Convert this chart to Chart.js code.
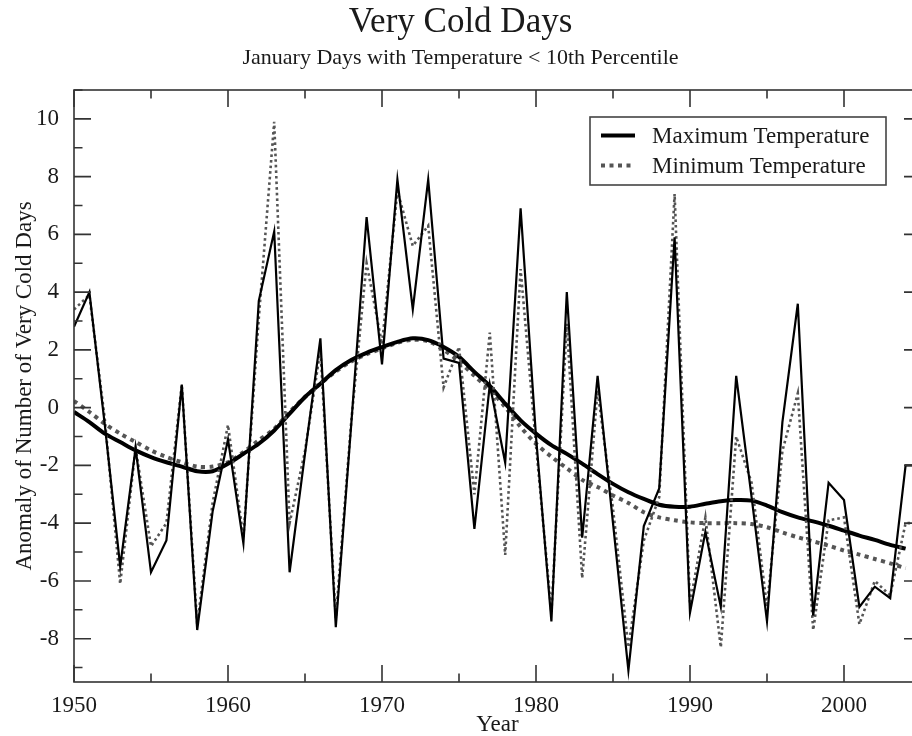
<!DOCTYPE html>
<html>
<head>
<meta charset="utf-8">
<title>Very Cold Days</title>
<script src="https://cdn.jsdelivr.net/npm/chart.js@4/dist/chart.umd.min.js"></script>
<style>
  html, body { margin: 0; padding: 0; background: #fff; overflow: hidden; }
  #wrap { width: 996px; height: 736px; }
</style>
</head>
<body>
<div id="wrap"><canvas id="my-chart" width="996" height="736"></canvas></div>
<script>
'use strict';

// ***************** DATA ***************** //

let years = [
  1950, 1951, 1952, 1953, 1954, 1955, 1956, 1957, 1958, 1959,
  1960, 1961, 1962, 1963, 1964, 1965, 1966, 1967, 1968, 1969,
  1970, 1971, 1972, 1973, 1974, 1975, 1976, 1977, 1978, 1979,
  1980, 1981, 1982, 1983, 1984, 1985, 1986, 1987, 1988, 1989,
  1990, 1991, 1992, 1993, 1994, 1995, 1996, 1997, 1998, 1999,
  2000, 2001, 2002, 2003, 2004, 2005
];

let maxTemp = [
  2.8, 4.0, -0.6, -5.5, -1.4, -5.7, -4.6, 0.8, -7.7, -3.6,
  -1.1, -4.7, 3.7, 6.1, -5.7, -1.6, 2.4, -7.6, -0.6, 6.6,
  1.5, 7.9, 3.4, 7.9, 1.7, 1.55, -4.2, 0.8, -1.9, 6.9,
  -1.0, -7.4, 4.0, -4.5, 1.1, -4.0, -9.1, -4.1, -2.8, 5.9,
  -7.1, -4.3, -6.9, 1.1, -3.1, -7.4, -0.5, 3.6, -7.2, -2.6,
  -3.2, -6.9, -6.2, -6.6, -2.0, -2.0
];

let minTemp = [
  3.4, 3.9, -0.4, -6.1, -1.4, -4.8, -4.0, 0.8, -7.5, -3.3,
  -0.6, -4.5, 3.1, 9.9, -4.0, -1.5, 2.0, -7.3, -0.5, 5.0,
  2.2, 7.5, 5.6, 6.3, 0.7, 2.1, -3.0, 2.6, -5.1, 4.8,
  -1.3, -7.1, 2.9, -5.9, 0.6, -3.5, -8.3, -4.6, -3.1, 7.4,
  -6.8, -3.8, -8.3, -1.0, -2.6, -6.9, -1.5, 0.5, -7.7, -3.9,
  -3.8, -7.5, -6.0, -6.5, -4.0, -4.0
];

// smoothed curves, 1950-2004
let maxSmooth = [
  -0.15, -0.5, -0.9, -1.19, -1.48, -1.71, -1.89, -2.04, -2.2, -2.2,
  -1.94, -1.6, -1.25, -0.79, -0.21, 0.37, 0.83, 1.3, 1.65, 1.9,
  2.1, 2.28, 2.4, 2.34, 2.1, 1.76, 1.24, 0.75, 0.14, -0.44,
  -0.9, -1.3, -1.6, -1.94, -2.3, -2.64, -2.93, -3.16, -3.36, -3.43,
  -3.43, -3.33, -3.24, -3.2, -3.22, -3.39, -3.62, -3.8, -3.94, -4.09,
  -4.26, -4.43, -4.58, -4.75, -4.88
];

let minSmooth = [
  0.23, -0.15, -0.56, -0.9, -1.19, -1.48, -1.71, -1.89, -2.04, -2.04,
  -1.89, -1.54, -1.13, -0.73, -0.15, 0.37, 0.83, 1.25, 1.6, 1.85,
  2.05, 2.25, 2.35, 2.3, 2.0, 1.6, 1.1, 0.62, 0.02, -0.67,
  -1.25, -1.7, -2.1, -2.5, -2.75, -3.04, -3.3, -3.62, -3.8, -3.9,
  -3.97, -4.0, -4.0, -4.0, -4.03, -4.14, -4.32, -4.49, -4.63, -4.78,
  -4.95, -5.09, -5.24, -5.39, -5.56
];

let xTickLabels = [1950, 1960, 1970, 1980, 1990, 2000];
let yTickLabels = [-8, -6, -4, -2, 0, 2, 4, 6, 8, 10];

let legendNames = ['Maximum Temperature', 'Minimum Temperature'];

// ***************** HELPERS ***************** //

const SERIF = '"Liberation Serif", "Times New Roman", Times, serif';
const INK = '#1a1a1a';
const DOT_GREY = '#555555';

function toPoints(values) {
  let pts = [];
  for (let i = 0; i < values.length; i++) {
    pts.push({ x: years[i], y: values[i] });
  }
  return pts;
}

// frame on all four sides with inward ticks, like the original plot
let framePlugin = {
  id: 'frame',
  afterDatasetsDraw(chart) {
    let c = chart.ctx;
    let area = chart.chartArea;
    let xs = chart.scales.x;
    let ys = chart.scales.y;
    c.save();
    c.strokeStyle = '#333';
    c.lineWidth = 1.6;
    c.strokeRect(area.left, area.top, area.right - area.left, area.bottom - area.top);

    c.beginPath();
    for (let yr = 1950; yr <= 2005; yr += 5) {
      let len = xTickLabels.includes(yr) ? 17 : 8.5;
      let px = xs.getPixelForValue(yr);
      c.moveTo(px, area.bottom);
      c.lineTo(px, area.bottom - len);
      c.moveTo(px, area.top);
      c.lineTo(px, area.top + len);
    }
    for (let v = -9; v <= 11; v++) {
      let len = yTickLabels.includes(v) ? 17 : 8.5;
      let py = ys.getPixelForValue(v);
      c.moveTo(area.left, py);
      c.lineTo(area.left + len, py);
      c.moveTo(area.right, py);
      c.lineTo(area.right - len, py);
    }
    c.stroke();
    c.restore();
  }
};

// boxed legend sitting inside the plot, top right
let boxLegendPlugin = {
  id: 'boxLegend',
  afterDraw(chart) {
    let c = chart.ctx;
    let area = chart.chartArea;
    let left = area.right - 331;
    let top = area.top + 27;
    let w = 296;
    let h = 68;
    let sets = [chart.data.datasets[2], chart.data.datasets[3]];

    c.save();
    c.fillStyle = '#fff';
    c.fillRect(left, top, w, h);
    c.strokeStyle = '#444';
    c.lineWidth = 1.6;
    c.strokeRect(left, top, w, h);

    for (let i = 0; i < sets.length; i++) {
      let y = top + 18.5 + i * 30;
      c.beginPath();
      c.strokeStyle = sets[i].borderColor;
      c.lineWidth = sets[i].borderWidth;
      c.setLineDash(sets[i].borderDash || []);
      c.moveTo(left + 11, y);
      c.lineTo(left + 45, y);
      c.stroke();
      c.setLineDash([]);

      c.fillStyle = INK;
      c.font = '23px ' + SERIF;
      c.textBaseline = 'middle';
      c.textAlign = 'left';
      c.fillText(legendNames[i], left + 62, y + 1);
    }
    c.restore();
  }
};

// ***************** CHART ***************** //

let ctx = document.getElementById('my-chart').getContext('2d');

let myChartObj = {
  type: 'line',
  data: {
    datasets: [
      {
        label: 'Maximum Temperature (annual)',
        data: toPoints(maxTemp),
        borderColor: '#000',
        borderWidth: 2.2,
        pointRadius: 0,
        tension: 0,
        fill: false
      },
      {
        label: 'Minimum Temperature (annual)',
        data: toPoints(minTemp),
        borderColor: DOT_GREY,
        borderWidth: 2.6,
        borderDash: [2.6, 3],
        pointRadius: 0,
        tension: 0,
        fill: false
      },
      {
        label: legendNames[0],
        data: toPoints(maxSmooth),
        borderColor: '#000',
        borderWidth: 4,
        pointRadius: 0,
        tension: 0.3,
        fill: false
      },
      {
        label: legendNames[1],
        data: toPoints(minSmooth),
        borderColor: DOT_GREY,
        borderWidth: 4,
        borderDash: [4, 4.5],
        pointRadius: 0,
        tension: 0.3,
        fill: false
      }
    ]
  },
  options: {
    responsive: false,
    animation: false,
    layout: { padding: { left: 0, right: 75, top: 0, bottom: 0 } },
    plugins: {
      legend: { display: false },
      tooltip: { enabled: false },
      title: {
        display: true,
        text: 'Very Cold Days',
        color: INK,
        font: { family: SERIF, size: 35, weight: 'normal', lineHeight: 1.2 },
        padding: { top: 2, bottom: 0 }
      },
      subtitle: {
        display: true,
        text: 'January Days with Temperature < 10th Percentile',
        color: INK,
        font: { family: SERIF, size: 22, weight: 'normal', lineHeight: 1.2 },
        padding: { top: 1, bottom: 18.6 }
      }
    },
    scales: {
      x: {
        type: 'linear',
        min: 1950,
        max: 2005,
        grid: { display: false },
        border: { display: false },
        ticks: {
          stepSize: 10,
          includeBounds: false,
          padding: 2,
          color: INK,
          font: { family: SERIF, size: 23 },
          maxRotation: 0,
          callback: (v) => (xTickLabels.includes(v) ? String(v) : '')
        },
        title: {
          display: true,
          text: 'Year',
          color: INK,
          font: { family: SERIF, size: 23, lineHeight: 1 },
          padding: { top: 0, bottom: 0 }
        },
        afterFit(scale) {
          scale.height = 54;
        }
      },
      y: {
        type: 'linear',
        min: -9.5,
        max: 11,
        grid: { display: false },
        border: { display: false },
        ticks: {
          stepSize: 2,
          includeBounds: false,
          padding: 7,
          color: INK,
          font: { family: SERIF, size: 23 },
          callback: (v) => (yTickLabels.includes(v) ? String(v) : '')
        },
        title: {
          display: true,
          text: 'Anomaly of Number of Very Cold Days',
          color: INK,
          font: { family: SERIF, size: 23, lineHeight: 1 },
          padding: { top: 13, bottom: 0 }
        },
        afterFit(scale) {
          scale.width = 74;
        }
      }
    }
  },
  plugins: [framePlugin, boxLegendPlugin]
};

new Chart(ctx, myChartObj);
</script>
</body>
</html>
